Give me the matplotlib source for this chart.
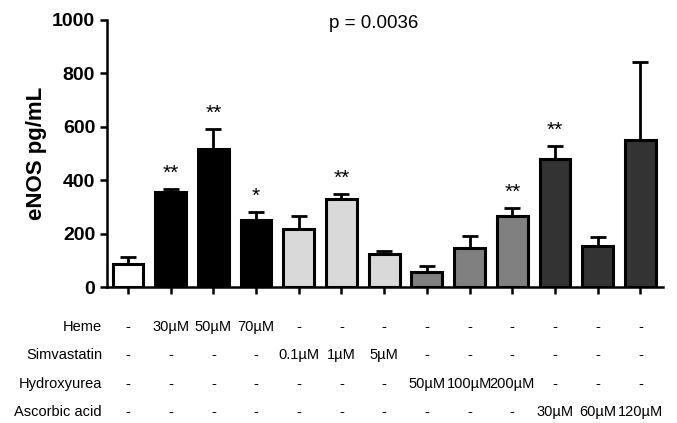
import matplotlib
matplotlib.use("Agg")
import matplotlib.pyplot as plt
import matplotlib.transforms as mtransforms

plt.rcParams['font.family'] = ['Liberation Sans', 'DejaVu Sans']

means = [86, 356, 518, 252, 217, 330, 125, 58, 146, 268, 480, 156, 552]
errs = [26, 12, 74, 30, 50, 20, 11, 23, 46, 30, 49, 32, 291]
bar_colors = ['#ffffff', '#000000', '#000000', '#000000',
              '#d9d9d9', '#d9d9d9', '#d9d9d9',
              '#808080', '#808080', '#808080',
              '#333333', '#333333', '#333333']
stars = ['', '**', '**', '*', '', '**', '', '', '', '**', '**', '', '']

row_names = ['Heme', 'Simvastatin', 'Hydroxyurea', 'Ascorbic acid']
heme = ['-', '30µM', '50µM', '70µM', '-', '-', '-', '-', '-', '-', '-', '-', '-']
simva = ['-', '-', '-', '-', '0.1µM', '1µM', '5µM', '-', '-', '-', '-', '-', '-']
hydroxy = ['-', '-', '-', '-', '-', '-', '-', '50µM', '100µM', '200µM', '-', '-', '-']
ascorbic = ['-', '-', '-', '-', '-', '-', '-', '-', '-', '-', '30µM', '60µM', '120µM']
rows = [heme, simva, hydroxy, ascorbic]

yticks = [0, 200, 400, 600, 800, 1000]

W, H = 677, 423
fig = plt.figure(figsize=(W / 100, H / 100), dpi=100)
ax = fig.add_axes([107 / W, 1 - 287.3 / H, (663 - 107) / W, (287.3 - 20) / H])

x = list(range(len(means)))
ax.bar(x, means, width=0.72, color=bar_colors, edgecolor='black', linewidth=2.2, zorder=2)
ax.errorbar(x, means, yerr=[[0] * len(errs), errs], fmt='none', ecolor='black',
            elinewidth=2.0, capsize=5.5, capthick=2.0, zorder=1)

for xi, m, e, s in zip(x, means, errs, stars):
    if s:
        ax.text(xi, m + e + 22, s, ha='center', va='bottom', fontsize=15)

ax.set_xlim(-0.49, 12.53)
ax.set_ylim(0, 1000)
ax.set_yticks(yticks)
ax.set_yticklabels([str(v) for v in yticks], fontsize=14, fontweight='bold')
ax.set_xticks(x)
ax.set_xticklabels([])
ax.tick_params(axis='both', direction='out', length=5, width=1.8)
ax.spines['top'].set_visible(False)
ax.spines['right'].set_visible(False)
ax.spines['left'].set_linewidth(1.8)
ax.spines['bottom'].set_linewidth(1.8)
ax.set_ylabel('eNOS pg/mL', fontsize=16, fontweight='bold', labelpad=4)

fig.text(374 / W, 1 - 24 / H, 'p = 0.0036', ha='center', va='center', fontsize=13.5)

trans = mtransforms.blended_transform_factory(ax.transData, fig.transFigure)
row_y = [327, 355, 384, 412]
for name, vals, yy in zip(row_names, rows, row_y):
    fig.text(102 / W, 1 - yy / H, name, ha='right', va='center', fontsize=10.5)
    for xi, v in zip(x, vals):
        ax.text(xi, 1 - yy / H, v, transform=trans, ha='center', va='center',
                fontsize=10.5, clip_on=False)

fig.savefig('out.png', dpi=100)
